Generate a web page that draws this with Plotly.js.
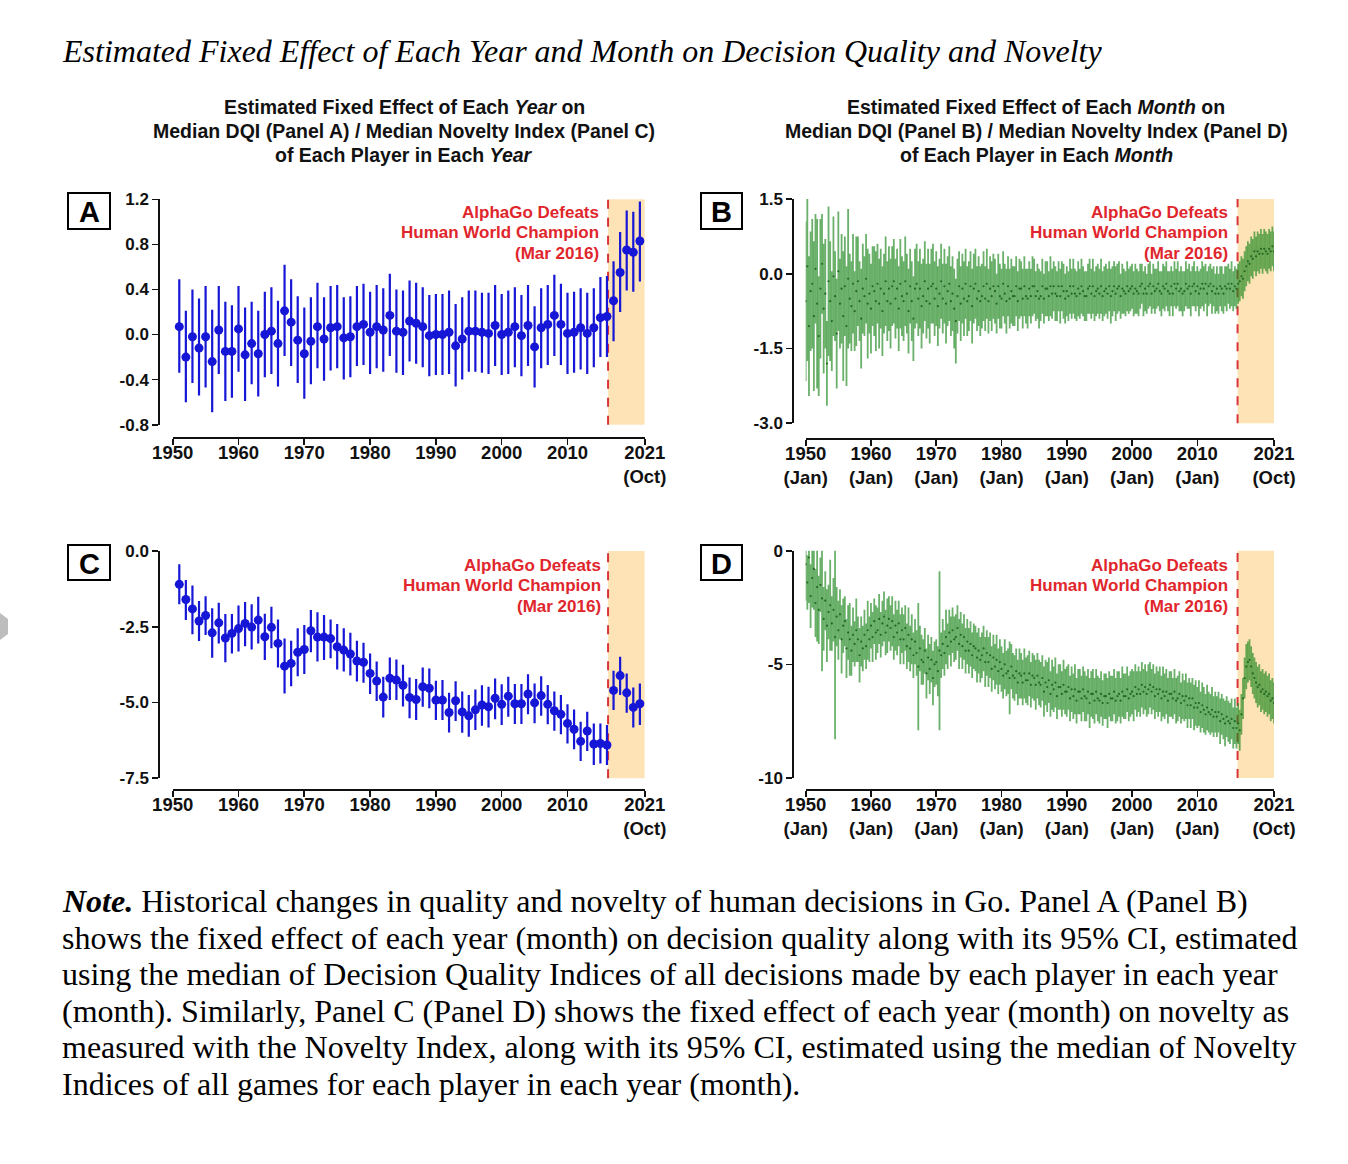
<!DOCTYPE html>
<html><head><meta charset="utf-8">
<script src="https://cdn.plot.ly/plotly-3.0.1.min.js"></script>
<style>html,body{margin:0;padding:0;background:#fff}#chart{width:1348px;height:1164px}</style>
</head><body><div id="chart"></div>
<script>
// ---------------- DATA ----------------
// Panels A and C: one estimate per year
const yearsAC = [1951,1952,1953,1954,1955,1956,1957,1958,1959,1960,1961,1962,1963,1964,1965,1966,1967,1968,1969,1970,
1971,1972,1973,1974,1975,1976,1977,1978,1979,1980,1981,1982,1983,1984,1985,1986,1987,1988,1989,1990,
1991,1992,1993,1994,1995,1996,1997,1998,1999,2000,2001,2002,2003,2004,2005,2006,2007,2008,2009,2010,
2011,2012,2013,2014,2015,2016,2017,2018,2019,2020,2021];

// Panel A: Median DQI, fixed effect of each year
const dqiYear = [0.07,-0.20,-0.02,-0.12,-0.02,-0.24,0.04,-0.15,-0.15,0.05,-0.18,-0.08,-0.17,0.00,0.03,-0.08,0.21,0.11,-0.05,-0.17,
-0.06,0.07,-0.04,0.06,0.07,-0.03,-0.02,0.07,0.09,0.02,0.07,0.04,0.17,0.03,0.02,0.12,0.10,0.07,-0.01,0.00,
0.00,0.02,-0.10,-0.04,0.03,0.03,0.02,0.01,0.08,0.00,0.02,0.07,-0.01,0.08,-0.11,0.06,0.09,0.17,0.09,0.01,
0.02,0.06,0.01,0.06,0.15,0.16,0.30,0.55,0.75,0.73,0.83];
const dqiYearLo = [-0.34,-0.60,-0.43,-0.54,-0.47,-0.69,-0.35,-0.59,-0.56,-0.33,-0.59,-0.44,-0.55,-0.38,-0.35,-0.46,-0.19,-0.28,-0.43,-0.57,
-0.44,-0.30,-0.41,-0.32,-0.30,-0.40,-0.38,-0.28,-0.27,-0.35,-0.30,-0.33,-0.19,-0.34,-0.36,-0.24,-0.26,-0.29,-0.37,-0.36,
-0.36,-0.35,-0.46,-0.40,-0.33,-0.33,-0.34,-0.35,-0.28,-0.36,-0.35,-0.29,-0.37,-0.28,-0.47,-0.30,-0.27,-0.19,-0.27,-0.35,
-0.34,-0.31,-0.35,-0.29,-0.20,-0.20,-0.06,0.20,0.39,0.38,0.47];
const dqiYearHi = [0.49,0.21,0.40,0.32,0.43,0.22,0.43,0.29,0.26,0.43,0.24,0.29,0.21,0.38,0.42,0.30,0.62,0.49,0.34,0.24,
0.33,0.46,0.33,0.43,0.44,0.33,0.34,0.43,0.45,0.38,0.44,0.41,0.54,0.40,0.39,0.48,0.46,0.42,0.35,0.36,
0.36,0.39,0.27,0.33,0.39,0.39,0.37,0.37,0.44,0.36,0.39,0.42,0.35,0.44,0.25,0.41,0.44,0.53,0.45,0.37,
0.38,0.41,0.37,0.41,0.51,0.52,0.65,0.91,1.10,1.09,1.18];

// Panel C: Median Novelty Index, fixed effect of each year
const novYear = [-1.10,-1.60,-1.91,-2.31,-2.13,-2.70,-2.37,-2.87,-2.72,-2.56,-2.39,-2.51,-2.28,-2.83,-2.52,-3.05,-3.80,-3.71,-3.34,-3.25,
-2.63,-2.84,-2.84,-2.89,-3.16,-3.27,-3.40,-3.63,-3.67,-4.04,-4.29,-4.82,-4.20,-4.26,-4.43,-4.83,-4.90,-4.48,-4.53,-4.92,
-4.92,-5.33,-4.94,-5.31,-5.44,-5.24,-5.08,-5.14,-4.86,-5.06,-4.79,-5.04,-5.04,-4.72,-5.01,-4.77,-5.06,-5.27,-5.39,-5.69,
-5.88,-6.28,-5.94,-6.37,-6.35,-6.40,-4.60,-4.11,-4.68,-5.16,-5.04];
const novYearLo = [-1.76,-2.28,-2.75,-2.97,-2.77,-3.52,-3.05,-3.67,-3.38,-3.32,-3.14,-3.25,-3.05,-3.60,-3.21,-3.84,-4.70,-4.46,-4.13,-4.06,
-3.34,-3.65,-3.60,-3.54,-3.91,-3.98,-4.11,-4.31,-4.35,-4.72,-4.95,-5.49,-4.92,-4.92,-5.13,-5.52,-5.58,-5.14,-5.19,-5.58,
-5.58,-5.99,-5.61,-6.00,-6.13,-5.91,-5.77,-5.82,-5.55,-5.74,-5.47,-5.71,-5.71,-5.39,-5.68,-5.44,-5.72,-5.93,-6.05,-6.35,
-6.54,-6.93,-6.60,-7.06,-7.01,-7.06,-5.25,-4.75,-5.34,-5.82,-5.74];
const novYearHi = [-0.44,-0.96,-1.14,-1.65,-1.49,-1.89,-1.71,-2.08,-2.08,-1.80,-1.68,-1.76,-1.51,-2.07,-1.84,-2.26,-2.89,-2.96,-2.55,-2.44,
-1.95,-2.02,-2.11,-2.26,-2.41,-2.55,-2.70,-2.96,-3.03,-3.38,-3.65,-4.15,-3.51,-3.58,-3.75,-4.17,-4.22,-3.84,-3.88,-4.28,
-4.26,-4.68,-4.30,-4.64,-4.75,-4.57,-4.43,-4.48,-4.21,-4.40,-4.15,-4.39,-4.39,-4.07,-4.37,-4.13,-4.42,-4.64,-4.75,-5.06,
-5.23,-5.63,-5.30,-5.69,-5.69,-5.74,-3.95,-3.49,-4.04,-4.50,-4.37];

// Panels B and D: one estimate per quarter month (Jan, Apr, Jul, Oct), 1950 Jan .. 2021 Oct
const periodYears = [1950, 2021];
const periodMonths = [1, 4, 7, 10];

// Panel B: Median DQI, fixed effect of each month (4 values per year, 4 years per row, 1950..2021)
const dqiMonth = [
-0.55,0.15,-1.05,-0.35, -0.20,-0.85,0.10,-0.60, -1.25,-0.30,0.20,-0.70, -0.40,-1.80,-0.15,-0.55,
-0.95,-0.05,-0.45,-1.20, 0.05,-0.60,-0.30,-0.85, -0.25,-1.05,-0.10,-0.50, -0.65,-0.20,-0.75,-0.35,
-0.15,-0.55,-0.90,-0.30, -0.45,-0.10,-0.60,-0.40, -0.70,-0.25,-0.35,-0.55, -0.20,-0.60,-0.30,-0.75,
-0.40,-0.15,-0.55,-0.30, -0.60,-0.25,-0.15,-0.50, -0.30,-0.70,-0.20,-0.45, -0.55,-0.15,-0.40,-0.75,
-0.25,-0.55,-0.90,-0.30, -0.20,-0.50,-0.30,-0.65, -0.45,-0.15,-0.55,-0.30, -0.60,-0.25,-0.20,-0.50,
-0.30,-0.65,-0.40,-0.15, -0.50,-0.25,-0.60,-0.35, -0.20,-0.55,-0.40,-0.70, -0.95,-0.45,-0.25,-0.60,
-0.30,-0.50,-0.20,-0.55, -0.45,-0.25,-0.65,-0.30, -0.20,-0.50,-0.35,-0.55, -0.45,-0.25,-0.50,-0.20,
-0.55,-0.30,-0.45,-0.25, -0.35,-0.60,-0.25,-0.45, -0.50,-0.20,-0.40,-0.55, -0.25,-0.50,-0.35,-0.45,
-0.45,-0.25,-0.55,-0.30, -0.30,-0.50,-0.25,-0.45, -0.50,-0.30,-0.45,-0.25, -0.25,-0.45,-0.35,-0.50,
-0.45,-0.25,-0.50,-0.30, -0.30,-0.45,-0.25,-0.40, -0.25,-0.40,-0.45,-0.25, -0.45,-0.25,-0.35,-0.50,
-0.35,-0.45,-0.25,-0.40, -0.25,-0.40,-0.45,-0.30, -0.40,-0.25,-0.35,-0.45, -0.45,-0.30,-0.25,-0.40,
-0.25,-0.45,-0.35,-0.30, -0.40,-0.25,-0.45,-0.35, -0.30,-0.40,-0.25,-0.45, -0.35,-0.25,-0.40,-0.30,
-0.25,-0.45,-0.30,-0.35, -0.40,-0.25,-0.35,-0.30, -0.25,-0.40,-0.30,-0.35, -0.40,-0.25,-0.20,-0.40,
-0.30,-0.40,-0.25,-0.20, -0.40,-0.25,-0.35,-0.30, -0.20,-0.35,-0.40,-0.25, -0.30,-0.20,-0.35,-0.40,
-0.25,-0.40,-0.20,-0.30, -0.20,-0.35,-0.30,-0.40, -0.35,-0.20,-0.30,-0.25, -0.40,-0.25,-0.20,-0.35,
-0.25,-0.40,-0.30,-0.20, -0.30,-0.20,-0.40,-0.25, -0.20,-0.35,-0.25,-0.40, -0.30,-0.40,-0.25,-0.30,
-0.40,-0.25,-0.30,-0.20, -0.30,-0.20,-0.35,-0.25, -0.30,-0.20,-0.15,-0.05, -0.10,0.05,0.15,0.25,
0.20,0.35,0.30,0.45, 0.35,0.45,0.40,0.50, 0.40,0.50,0.45,0.40, 0.50,0.45,0.55,0.45];
const dqiMonthCI = [
1.6,1.9,1.4,1.2, 1.3,1.5,1.1,1.7, 1.2,1.4,1.0,1.3, 1.1,0.85,1.5,1.2,
1.0,1.2,0.9,1.1, 1.2,0.9,1.1,1.3, 1.0,1.2,1.4,0.9, 0.9,1.0,0.8,1.1,
0.9,0.8,1.0,0.9, 0.8,0.9,1.1,0.8, 0.9,0.8,0.9,1.0, 0.8,0.9,0.8,0.9,
0.8,0.9,0.8,0.85, 0.9,0.8,0.85,0.8, 0.8,0.85,0.9,0.8, 0.8,0.9,0.8,0.85,
0.75,0.8,0.85,0.8, 0.8,0.75,0.8,0.85, 0.75,0.8,0.75,0.8, 0.8,0.75,0.8,0.75,
0.75,0.8,0.7,0.75, 0.7,0.75,0.8,0.7, 0.75,0.7,0.75,0.8, 0.85,0.75,0.7,0.75,
0.7,0.75,0.7,0.7, 0.7,0.7,0.75,0.7, 0.7,0.65,0.7,0.7, 0.65,0.7,0.65,0.7,
0.65,0.65,0.7,0.65, 0.65,0.6,0.65,0.65, 0.6,0.65,0.6,0.65, 0.6,0.6,0.65,0.6,
0.6,0.6,0.6,0.6, 0.55,0.6,0.6,0.55, 0.6,0.55,0.55,0.6, 0.55,0.5,0.55,0.6,
0.5,0.55,0.5,0.55, 0.55,0.5,0.6,0.5, 0.5,0.55,0.5,0.5, 0.55,0.5,0.55,0.5,
0.5,0.5,0.55,0.5, 0.55,0.5,0.5,0.55, 0.5,0.55,0.5,0.5, 0.5,0.5,0.55,0.5,
0.55,0.5,0.5,0.5, 0.5,0.55,0.5,0.5, 0.5,0.5,0.5,0.55, 0.5,0.5,0.55,0.5,
0.5,0.45,0.5,0.45, 0.45,0.5,0.45,0.45, 0.45,0.45,0.5,0.45, 0.45,0.45,0.4,0.45,
0.45,0.4,0.45,0.45, 0.4,0.45,0.45,0.4, 0.45,0.4,0.45,0.45, 0.45,0.45,0.4,0.45,
0.4,0.45,0.45,0.4, 0.45,0.4,0.45,0.45, 0.4,0.45,0.4,0.45, 0.45,0.4,0.45,0.4,
0.4,0.45,0.4,0.45, 0.45,0.4,0.45,0.4, 0.4,0.45,0.4,0.4, 0.45,0.4,0.4,0.45,
0.4,0.4,0.45,0.4, 0.4,0.45,0.4,0.4, 0.4,0.4,0.4,0.4, 0.4,0.4,0.4,0.4,
0.4,0.4,0.4,0.4, 0.4,0.4,0.4,0.4, 0.4,0.4,0.4,0.4, 0.4,0.4,0.4,0.4];

// Panel D: Median Novelty Index, fixed effect of each month (4 values per year, 4 years per row, 1950..2021)
const novMonth = [
-0.6,-1.4,-0.3,-2.0, -1.2,-0.8,-2.3,-1.6, -2.6,-1.5,-2.1,-3.0, -2.2,-3.3,-2.7,-2.4,
-3.2,-2.6,-3.8,-2.9, -3.5,-2.8,-3.9,-3.3, -3.1,-4.3,-3.6,-3.9, -4.4,-3.7,-4.1,-3.5,
-3.9,-4.6,-4.0,-4.3, -3.7,-4.2,-3.5,-3.9, -3.3,-3.8,-3.1,-3.6, -3.5,-3.0,-3.7,-3.2,
-2.9,-3.6,-3.3,-3.0, -3.4,-3.1,-3.8,-3.3, -3.6,-3.2,-3.9,-3.5, -3.9,-3.4,-4.2,-3.7,
-4.3,-3.9,-4.6,-4.0, -4.5,-5.1,-4.3,-4.8, -4.9,-4.4,-5.4,-4.7, -5.2,-4.8,-5.6,-5.0,
-4.9,-5.3,-4.4,-4.6, -4.1,-4.5,-3.8,-4.2, -3.6,-4.0,-3.5,-3.9, -3.8,-3.4,-4.1,-3.7,
-4.2,-3.8,-4.4,-4.0, -4.4,-4.1,-4.6,-4.2, -4.3,-4.7,-4.4,-4.8, -4.6,-4.3,-4.9,-4.5,
-4.9,-4.6,-5.2,-4.7, -5.1,-4.8,-5.3,-4.9, -5.2,-5.5,-5.0,-5.4, -5.3,-5.6,-5.1,-5.5,
-5.6,-5.3,-5.8,-5.4, -5.5,-5.8,-5.4,-5.7, -5.7,-5.4,-5.9,-5.5, -5.6,-5.9,-5.5,-5.8,
-5.9,-5.6,-6.2,-5.8, -6.0,-5.7,-6.3,-5.9, -6.1,-5.8,-6.4,-6.0, -6.0,-6.3,-5.9,-6.2,
-6.2,-6.0,-6.5,-6.1, -6.4,-6.1,-6.6,-6.2, -6.2,-6.5,-6.1,-6.4, -6.5,-6.2,-6.7,-6.3,
-6.3,-6.6,-6.2,-6.5, -6.6,-6.3,-6.7,-6.4, -6.4,-6.7,-6.3,-6.5, -6.5,-6.2,-6.6,-6.4,
-6.3,-6.6,-6.2,-6.4, -6.4,-6.1,-6.5,-6.3, -6.2,-6.4,-6.0,-6.3, -6.1,-6.3,-5.9,-6.2,
-6.0,-6.3,-6.1,-5.9, -6.2,-6.0,-6.4,-6.1, -6.3,-6.1,-6.5,-6.2, -6.4,-6.2,-6.6,-6.3,
-6.3,-6.5,-6.2,-6.6, -6.5,-6.3,-6.7,-6.4, -6.6,-6.4,-6.8,-6.5, -6.8,-6.5,-6.9,-6.7,
-6.9,-6.7,-7.1,-6.8, -7.0,-7.2,-6.9,-7.1, -7.2,-7.0,-7.3,-7.1, -7.3,-7.1,-7.5,-7.2,
-7.4,-7.6,-7.3,-7.5, -7.6,-7.4,-7.8,-7.5, -7.8,-7.6,-7.9,-7.2, -6.5,-5.6,-5.1,-4.9,
-4.8,-5.1,-5.4,-5.6, -5.8,-6.0,-5.9,-6.2, -6.1,-6.3,-6.2,-6.4, -6.3,-6.6,-6.5,-6.7];
const novMonthCI = [
1.6,1.2,2.0,1.4, 1.3,1.8,1.5,2.4, 1.5,1.2,3.2,1.4, 1.3,1.6,1.2,2.0,
1.2,1.4,4.5,1.3, 1.3,1.1,1.5,1.2, 1.1,1.3,1.2,1.6, 1.1,1.2,1.0,1.4,
1.0,1.2,1.1,1.0, 1.1,1.0,1.3,1.0, 1.0,1.1,1.0,1.2, 1.0,1.1,1.0,1.0,
1.1,1.0,1.2,1.0, 1.0,1.1,1.0,1.1, 1.0,1.0,1.1,1.0, 1.1,1.0,1.0,1.2,
1.0,1.1,1.0,1.0, 1.0,2.8,1.0,1.1, 1.0,1.0,1.1,1.0, 1.1,1.0,1.2,1.0,
1.0,1.1,3.5,1.0, 1.1,1.0,1.2,1.0, 1.0,1.1,1.0,1.0, 1.0,1.0,1.1,1.0,
1.0,1.0,1.0,1.0, 1.0,1.0,1.0,1.0, 1.0,1.1,1.0,1.0, 1.0,1.0,1.1,1.0,
1.1,1.0,1.0,1.0, 1.0,1.1,1.0,1.0, 1.0,1.0,1.1,1.0, 1.0,1.6,1.0,1.0,
1.0,1.0,1.0,1.1, 1.0,1.0,1.1,1.0, 1.1,1.0,1.0,1.0, 1.0,1.1,1.0,1.0,
1.0,1.0,1.1,1.0, 1.1,1.0,1.0,1.1, 1.0,1.1,1.0,1.0, 1.0,1.0,1.1,1.0,
1.1,1.0,1.0,1.0, 1.0,1.1,1.0,1.0, 1.0,1.0,1.0,1.1, 1.0,1.0,1.1,1.0,
1.1,1.0,1.0,1.0, 1.0,1.0,1.0,1.0, 1.0,1.1,1.0,1.0, 1.0,1.0,1.0,1.1,
1.0,1.0,1.1,1.0, 1.0,1.0,1.0,1.0, 1.0,1.1,1.0,1.0, 1.0,1.0,1.0,1.0,
1.0,1.0,1.1,1.0, 1.0,1.0,1.0,1.0, 1.0,1.0,1.0,1.1, 1.0,1.0,1.0,1.0,
1.0,0.9,1.0,1.0, 1.0,1.0,0.9,1.0, 0.9,1.0,1.0,0.9, 1.0,0.9,1.0,1.0,
0.9,1.0,0.9,1.0, 1.0,0.9,1.0,0.9, 0.9,1.0,0.9,0.9, 0.9,0.9,1.0,0.9,
0.9,1.0,0.9,0.9, 0.9,0.9,0.9,1.0, 0.9,0.9,0.9,0.9, 0.9,0.9,1.0,0.9,
0.9,0.9,0.9,0.9, 0.9,0.9,0.9,0.9, 0.9,0.9,0.9,0.9, 0.9,0.9,0.9,0.9];

// Events / axis text
const alphaGoEvent = 2016 + 2 / 12;   // March 2016
const axisEnd = 2021 + 9 / 12;        // October 2021
const xTickVals = [1950, 1960, 1970, 1980, 1990, 2000, 2010, axisEnd];
const xTickYear = ['1950', '1960', '1970', '1980', '1990', '2000', '2010', '2021<br>(Oct)'];
const xTickMonth = ['1950<br>(Jan)', '1960<br>(Jan)', '1970<br>(Jan)', '1980<br>(Jan)', '1990<br>(Jan)', '2000<br>(Jan)', '2010<br>(Jan)', '2021<br>(Oct)'];
const yTicksA = { vals: [-0.8, -0.4, 0, 0.4, 0.8, 1.2], text: ['-0.8', '-0.4', '0.0', '0.4', '0.8', '1.2'] };
const yTicksB = { vals: [-3, -1.5, 0, 1.5], text: ['-3.0', '-1.5', '0.0', '1.5'] };
const yTicksC = { vals: [-7.5, -5, -2.5, 0], text: ['-7.5', '-5.0', '-2.5', '0.0'] };
const yTicksD = { vals: [-10, -5, 0], text: ['-10', '-5', '0'] };

// ---------------- BUILD ----------------
const periodX = [];
for (let y = periodYears[0]; y <= periodYears[1]; y++) for (const m of periodMonths) periodX.push(y + (m - 1) / 12);

const W = 1348, H = 1164;
const px = v => v / W;
const py = v => 1 - v / H;

const SANS = 'Liberation Sans, Arial, Helvetica, sans-serif';
const SERIF = 'Liberation Serif, Times New Roman, serif';
const BLUE = '#1616d6';
const RED = '#e0262c';
const SHADE = '#fde3b6';
const GREEN_BAR = 'rgba(36,138,36,0.68)';
const GREEN_DOT = '#236823';

function xAxis(l, r, lineY, text) {
  return {
    domain: [px(l), px(r)], range: [1950, axisEnd], anchor: 'free', position: py(lineY),
    showline: true, linecolor: '#111', linewidth: 1.6, ticks: 'outside', ticklen: 6, tickwidth: 1.6, tickcolor: '#111',
    tickmode: 'array', tickvals: xTickVals, ticktext: text, ticklabelstandoff: -8,
    tickfont: { family: SANS, size: 18.5, color: '#111', weight: 'bold' },
    showgrid: false, zeroline: false, fixedrange: true
  };
}
function yAxis(top, bottom, lineX, range, t) {
  return {
    domain: [py(bottom), py(top)], range: range, anchor: 'free', position: px(lineX),
    showline: true, linecolor: '#111', linewidth: 1.6, ticks: 'outside', ticklen: 6, tickwidth: 1.6, tickcolor: '#111',
    tickmode: 'array', tickvals: t.vals, ticktext: t.text,
    tickfont: { family: SANS, size: 17, color: '#111', weight: 'bold' },
    showgrid: false, zeroline: false, fixedrange: true
  };
}
function errs(val, lo, hi) {
  return { type: 'data', symmetric: false,
    array: val.map((v, i) => hi[i] - v), arrayminus: val.map((v, i) => v - lo[i]),
    color: BLUE, thickness: 2.2, width: 0 };
}

const traces = [
  { x: yearsAC, y: dqiYear, xaxis: 'x', yaxis: 'y', type: 'scatter', mode: 'markers',
    marker: { size: 9, color: BLUE }, error_y: errs(dqiYear, dqiYearLo, dqiYearHi), hoverinfo: 'skip' },
  { x: periodX, y: dqiMonth, xaxis: 'x2', yaxis: 'y2', type: 'scatter', mode: 'markers',
    marker: { size: 2.2, color: GREEN_DOT },
    error_y: { type: 'data', array: dqiMonthCI, color: GREEN_BAR, thickness: 1.8, width: 0 }, hoverinfo: 'skip' },
  { x: yearsAC, y: novYear, xaxis: 'x3', yaxis: 'y3', type: 'scatter', mode: 'markers',
    marker: { size: 9, color: BLUE }, error_y: errs(novYear, novYearLo, novYearHi), hoverinfo: 'skip' },
  { x: periodX, y: novMonth, xaxis: 'x4', yaxis: 'y4', type: 'scatter', mode: 'markers',
    marker: { size: 2.2, color: GREEN_DOT },
    error_y: { type: 'data', array: novMonthCI, color: GREEN_BAR, thickness: 1.8, width: 0 }, hoverinfo: 'skip' }
];

const shapes = [];
const annotations = [];
['', '2', '3', '4'].forEach(s => {
  shapes.push({ type: 'rect', xref: 'x' + s, yref: 'y' + s + ' domain', x0: alphaGoEvent, x1: axisEnd, y0: 0, y1: 1,
    fillcolor: SHADE, line: { width: 0 }, layer: 'below' });
  shapes.push({ type: 'line', xref: 'x' + s, yref: 'y' + s + ' domain', x0: alphaGoEvent, x1: alphaGoEvent, y0: 0, y1: 1,
    line: { color: '#d8343a', width: 2, dash: 'dash' }, layer: 'below' });
});

// Panel letter boxes
[['A', 68, 193, 110, 229], ['B', 701, 193, 742, 229], ['C', 68, 545, 110, 580], ['D', 701, 545, 742, 580]].forEach(b => {
  shapes.push({ type: 'rect', xref: 'paper', yref: 'paper', x0: px(b[1]), x1: px(b[3]), y0: py(b[4]), y1: py(b[2]),
    line: { color: '#000', width: 2 }, fillcolor: 'rgba(0,0,0,0)' });
  annotations.push({ xref: 'paper', yref: 'paper', x: px((b[1] + b[3]) / 2), y: py((b[2] + b[4]) / 2 + 1),
    text: '<b>' + b[0] + '</b>', showarrow: false, xanchor: 'center', yanchor: 'middle',
    font: { family: SANS, size: 29, color: '#000' } });
});
// small grey mark at left edge
shapes.push({ type: 'path', xref: 'paper', yref: 'paper',
  path: `M ${px(0)} ${py(613)} L ${px(8)} ${py(619)} L ${px(8)} ${py(634)} L ${px(0)} ${py(640)} Z`,
  fillcolor: '#bdbdbd', line: { width: 0 } });

// AlphaGo labels
const eventLines = ['AlphaGo Defeats', 'Human World Champion', '(Mar 2016)'];
[[601, 212], [1230, 212], [603, 565], [1230, 565]].forEach(p => {
  eventLines.forEach((t, i) => {
    annotations.push({ xref: 'paper', yref: 'paper', x: px(p[0]), y: py(p[1] + i * 20.8),
      text: '<b>' + t + '</b>', showarrow: false, xanchor: 'right', yanchor: 'middle',
      font: { family: SANS, size: 17, color: RED } });
  });
});

// Column titles
const leftTitle = ['Estimated Fixed Effect of Each <i>Year</i> on', 'Median DQI (Panel A) / Median Novelty Index (Panel C)', 'of Each Player in Each <i>Year</i>'];
const rightTitle = ['Estimated Fixed Effect of Each <i>Month</i> on', 'Median DQI (Panel B) / Median Novelty Index (Panel D)', 'of Each Player in Each <i>Month</i>'];
[[404, leftTitle], [1036, rightTitle]].forEach(c => {
  c[1].forEach((t, i) => {
    annotations.push({ xref: 'paper', yref: 'paper', x: px(c[0]), y: py(107 + i * 24),
      text: '<b>' + t + '</b>', showarrow: false, xanchor: 'center', yanchor: 'middle',
      font: { family: SANS, size: 19.5, color: '#111' } });
  });
});

// Main title
annotations.push({ xref: 'paper', yref: 'paper', x: px(60), y: py(51),
  text: '<i>Estimated Fixed Effect of Each Year and Month on Decision Quality and Novelty</i>',
  showarrow: false, xanchor: 'left', yanchor: 'middle', font: { family: SERIF, size: 32, color: '#000' } });

// Note
const noteLines = [
  '<b><i>Note.</i></b> Historical changes in quality and novelty of human decisions in Go. Panel A (Panel B)',
  'shows the fixed effect of each year (month) on decision quality along with its 95% CI, estimated',
  'using the median of Decision Quality Indices of all decisions made by each player in each year',
  '(month). Similarly, Panel C (Panel D) shows the fixed effect of each year (month) on novelty as',
  'measured with the Novelty Index, along with its 95% CI, estimated using the median of Novelty',
  'Indices of all games for each player in each year (month).'
];
noteLines.forEach((t, i) => {
  annotations.push({ xref: 'paper', yref: 'paper', x: px(60), y: py(901 + i * 36.5),
    text: t, showarrow: false, xanchor: 'left', yanchor: 'middle', font: { family: SERIF, size: 32, color: '#000' } });
});

const layout = {
  width: W, height: H, margin: { l: 0, r: 0, t: 0, b: 0 },
  paper_bgcolor: '#fff', plot_bgcolor: 'rgba(0,0,0,0)', showlegend: false,
  xaxis: xAxis(172.7, 644.8, 437, xTickYear),
  yaxis: yAxis(199.3, 424.7, 158.3, [-0.8, 1.2], yTicksA),
  xaxis2: xAxis(805.7, 1274, 438, xTickMonth),
  yaxis2: yAxis(199, 423.3, 792.3, [-3, 1.5], yTicksB),
  xaxis3: xAxis(172.7, 644.8, 789, xTickYear),
  yaxis3: yAxis(551, 778.3, 158.3, [-7.5, 0], yTicksC),
  xaxis4: xAxis(805.7, 1274, 789, xTickMonth),
  yaxis4: yAxis(550.7, 778, 792.3, [-10, 0], yTicksD),
  shapes: shapes, annotations: annotations
};

Plotly.newPlot('chart', traces, layout, { staticPlot: true, displayModeBar: false });
</script>
</body></html>
